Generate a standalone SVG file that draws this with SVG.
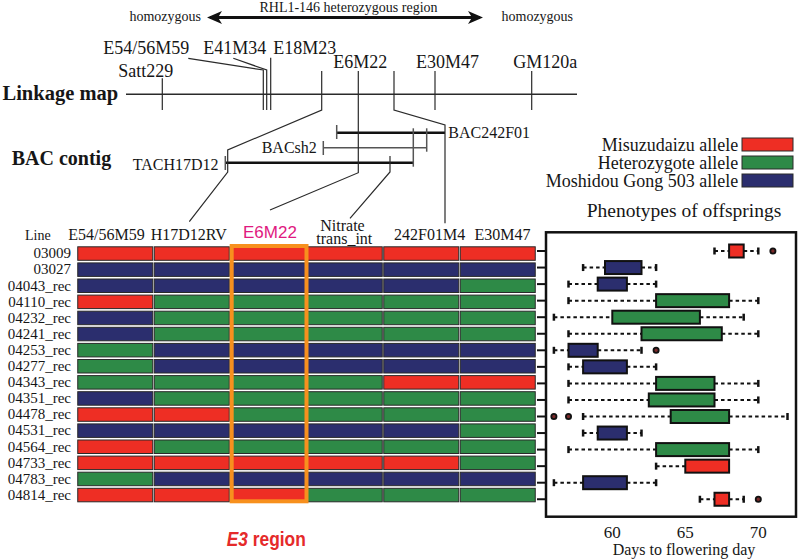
<svg xmlns="http://www.w3.org/2000/svg" width="800" height="559" viewBox="0 0 800 559">
<defs>
<style>
.t{font-family:"Liberation Serif","Times New Roman",serif;fill:#161616}
.sans{font-family:"Liberation Sans",Arial,sans-serif}
.f14{font-size:14px}.f15{font-size:15px}.f16{font-size:16px}.f17{font-size:17px}.f18{font-size:18px}.f19{font-size:19.5px}
.bold{font-weight:bold;font-size:20px}
.ln{stroke:#2a2a2a;stroke-width:1.2;fill:none}
.bar{stroke:#111;stroke-width:2.5}
.gbar{stroke:#555;stroke-width:1.5}
.R{fill:#EE2E24}.G{fill:#2E8A47}.B{fill:#2B2E6E}
.cell{stroke:#2a2a2a;stroke-width:1}
.box{stroke:#111;stroke-width:2}
.wh{stroke:#111;stroke-width:2;stroke-dasharray:3.5 3}
.cap{stroke:#111;stroke-width:2.5}
.out{fill:#7a2a2a;stroke:#111;stroke-width:1.8}
.tk{stroke:#111;stroke-width:2}
</style>
<marker id="ah" markerUnits="userSpaceOnUse" markerWidth="16" markerHeight="13" refX="12" refY="6.5" orient="auto-start-reverse">
<path d="M0,0 L15,6.5 L0,13 L4,6.5 Z" fill="#111"/>
</marker>
</defs>
<rect width="800" height="559" fill="#fff"/>

<g id="heterozygous-region">
<text class="t f14" x="201" y="21" text-anchor="end">homozygous</text>
<text class="t f14" x="348.5" y="12" text-anchor="middle">RHL1-146 heterozygous region</text>
<text class="t f14" x="501.5" y="21">homozygous</text>
<line x1="210" y1="17.5" x2="480" y2="17.5" stroke="#111" stroke-width="3" marker-start="url(#ah)" marker-end="url(#ah)"/>
</g>

<g id="linkage-map">
<text class="t bold" x="2.5" y="100" style="font-size:20.5px">Linkage map</text>
<line class="ln" x1="126" y1="94.3" x2="577" y2="94.3" style="stroke-width:1.5"/>
<line class="ln" x1="162.3" y1="78.3" x2="162.3" y2="110"/>
<line class="ln" x1="435" y1="71" x2="435" y2="110"/>
<line class="ln" x1="531.7" y1="71" x2="531.7" y2="110"/>
<text class="t f18" x="118.3" y="76.7">Satt229</text>
<text class="t f18" x="103.3" y="54.3">E54/56M59</text>
<text class="t f18" x="203.3" y="54.3">E41M34</text>
<text class="t f18" x="273.3" y="54.3">E18M23</text>
<text class="t f18" x="333.3" y="67.7">E6M22</text>
<text class="t f18" x="416" y="67.7">E30M47</text>
<text class="t f18" x="513.3" y="67.7">GM120a</text>
</g>

<g id="bac-contig">
<text class="t bold" x="11.7" y="165">BAC contig</text>
<line class="bar" x1="336.7" y1="132.7" x2="445" y2="132.7"/>
<line class="gbar" x1="336.7" y1="125" x2="336.7" y2="139"/>
<line class="gbar" x1="323.3" y1="147.7" x2="426.7" y2="147.7"/>
<line class="gbar" x1="323.3" y1="141" x2="323.3" y2="155"/>
<line class="gbar" x1="426.7" y1="128.3" x2="426.7" y2="151.7"/>
<line class="bar" x1="226" y1="162.7" x2="413.3" y2="162.7"/>
<line class="gbar" x1="225.3" y1="156" x2="225.3" y2="170"/>
<line class="gbar" x1="413.3" y1="128.3" x2="413.3" y2="166.7"/>
<text class="t f16" x="448.3" y="137.5">BAC242F01</text>
<text class="t f16" x="261.7" y="153.3">BACsh2</text>
<text class="t f16" x="132.7" y="170">TACH17D12</text>
</g>

<g id="connectors">
<polyline class="ln" points="188.3,58.3 263.3,70 263.3,110"/>
<polyline class="ln" points="233.3,58.3 266.7,70 266.7,110"/>
<polyline class="ln" points="270.7,57.7 270.7,110"/>
<polyline class="ln" points="321.7,71 321.7,110 227.7,150 227.7,172 189.3,221.7"/>
<polyline class="ln" points="358.3,71 358.3,172.7 270,210"/>
<polyline class="ln" points="394,71 394,110 445,125 445,223.3"/>
<polyline class="ln" points="390,156 390,172 350,218.3"/>
</g>

<g id="grid-headers">
<text class="t f14" x="25" y="240">Line</text>
<text class="t f16" x="68.3" y="240">E54/56M59</text>
<text class="t f16" x="150.7" y="240">H17D12RV</text>
<text class="sans f17" x="243" y="238" fill="#E0197F">E6M22</text>
<text class="t f16" x="342.5" y="231" text-anchor="middle">Nitrate</text>
<text class="t f16" x="344.3" y="243.5" text-anchor="middle">trans_int</text>
<text class="t f16" x="394" y="240">242F01M4</text>
<text class="t f16" x="474.5" y="240">E30M47</text>
</g>

<g id="genotype-grid">
<g id="row-03009" transform="translate(0,246.8)"><text class="t f15" x="71" y="11.5" text-anchor="end">03009</text><rect class="cell R" x="77.75" width="75" height="13.5"/><rect class="cell R" x="154.25" width="75" height="13.5"/><rect class="cell R" x="230.75" width="75" height="13.5"/><rect class="cell R" x="307.25" width="75" height="13.5"/><rect class="cell R" x="383.75" width="75" height="13.5"/><rect class="cell R" x="460.25" width="75" height="13.5"/></g>
<g id="row-03027" transform="translate(0,262.9)"><text class="t f15" x="71" y="11.5" text-anchor="end">03027</text><rect class="cell B" x="77.75" width="75" height="13.5"/><rect class="cell B" x="154.25" width="75" height="13.5"/><rect class="cell B" x="230.75" width="75" height="13.5"/><rect class="cell B" x="307.25" width="75" height="13.5"/><rect class="cell B" x="383.75" width="75" height="13.5"/><rect class="cell B" x="460.25" width="75" height="13.5"/></g>
<g id="row-04043" transform="translate(0,279)"><text class="t f15" x="71" y="11.5" text-anchor="end">04043_rec</text><rect class="cell B" x="77.75" width="75" height="13.5"/><rect class="cell B" x="154.25" width="75" height="13.5"/><rect class="cell B" x="230.75" width="75" height="13.5"/><rect class="cell B" x="307.25" width="75" height="13.5"/><rect class="cell B" x="383.75" width="75" height="13.5"/><rect class="cell G" x="460.25" width="75" height="13.5"/></g>
<g id="row-04110" transform="translate(0,295.1)"><text class="t f15" x="71" y="11.5" text-anchor="end">04110_rec</text><rect class="cell R" x="77.75" width="75" height="13.5"/><rect class="cell G" x="154.25" width="75" height="13.5"/><rect class="cell G" x="230.75" width="75" height="13.5"/><rect class="cell G" x="307.25" width="75" height="13.5"/><rect class="cell G" x="383.75" width="75" height="13.5"/><rect class="cell G" x="460.25" width="75" height="13.5"/></g>
<g id="row-04232" transform="translate(0,311.2)"><text class="t f15" x="71" y="11.5" text-anchor="end">04232_rec</text><rect class="cell B" x="77.75" width="75" height="13.5"/><rect class="cell G" x="154.25" width="75" height="13.5"/><rect class="cell G" x="230.75" width="75" height="13.5"/><rect class="cell G" x="307.25" width="75" height="13.5"/><rect class="cell G" x="383.75" width="75" height="13.5"/><rect class="cell G" x="460.25" width="75" height="13.5"/></g>
<g id="row-04241" transform="translate(0,327.3)"><text class="t f15" x="71" y="11.5" text-anchor="end">04241_rec</text><rect class="cell B" x="77.75" width="75" height="13.5"/><rect class="cell G" x="154.25" width="75" height="13.5"/><rect class="cell G" x="230.75" width="75" height="13.5"/><rect class="cell G" x="307.25" width="75" height="13.5"/><rect class="cell G" x="383.75" width="75" height="13.5"/><rect class="cell G" x="460.25" width="75" height="13.5"/></g>
<g id="row-04253" transform="translate(0,343.4)"><text class="t f15" x="71" y="11.5" text-anchor="end">04253_rec</text><rect class="cell G" x="77.75" width="75" height="13.5"/><rect class="cell B" x="154.25" width="75" height="13.5"/><rect class="cell B" x="230.75" width="75" height="13.5"/><rect class="cell B" x="307.25" width="75" height="13.5"/><rect class="cell B" x="383.75" width="75" height="13.5"/><rect class="cell B" x="460.25" width="75" height="13.5"/></g>
<g id="row-04277" transform="translate(0,359.5)"><text class="t f15" x="71" y="11.5" text-anchor="end">04277_rec</text><rect class="cell G" x="77.75" width="75" height="13.5"/><rect class="cell B" x="154.25" width="75" height="13.5"/><rect class="cell B" x="230.75" width="75" height="13.5"/><rect class="cell B" x="307.25" width="75" height="13.5"/><rect class="cell B" x="383.75" width="75" height="13.5"/><rect class="cell B" x="460.25" width="75" height="13.5"/></g>
<g id="row-04343" transform="translate(0,375.6)"><text class="t f15" x="71" y="11.5" text-anchor="end">04343_rec</text><rect class="cell G" x="77.75" width="75" height="13.5"/><rect class="cell G" x="154.25" width="75" height="13.5"/><rect class="cell G" x="230.75" width="75" height="13.5"/><rect class="cell G" x="307.25" width="75" height="13.5"/><rect class="cell R" x="383.75" width="75" height="13.5"/><rect class="cell R" x="460.25" width="75" height="13.5"/></g>
<g id="row-04351" transform="translate(0,391.7)"><text class="t f15" x="71" y="11.5" text-anchor="end">04351_rec</text><rect class="cell B" x="77.75" width="75" height="13.5"/><rect class="cell G" x="154.25" width="75" height="13.5"/><rect class="cell G" x="230.75" width="75" height="13.5"/><rect class="cell G" x="307.25" width="75" height="13.5"/><rect class="cell G" x="383.75" width="75" height="13.5"/><rect class="cell G" x="460.25" width="75" height="13.5"/></g>
<g id="row-04478" transform="translate(0,407.8)"><text class="t f15" x="71" y="11.5" text-anchor="end">04478_rec</text><rect class="cell R" x="77.75" width="75" height="13.5"/><rect class="cell R" x="154.25" width="75" height="13.5"/><rect class="cell G" x="230.75" width="75" height="13.5"/><rect class="cell G" x="307.25" width="75" height="13.5"/><rect class="cell G" x="383.75" width="75" height="13.5"/><rect class="cell G" x="460.25" width="75" height="13.5"/></g>
<g id="row-04531" transform="translate(0,423.9)"><text class="t f15" x="71" y="11.5" text-anchor="end">04531_rec</text><rect class="cell B" x="77.75" width="75" height="13.5"/><rect class="cell B" x="154.25" width="75" height="13.5"/><rect class="cell B" x="230.75" width="75" height="13.5"/><rect class="cell B" x="307.25" width="75" height="13.5"/><rect class="cell B" x="383.75" width="75" height="13.5"/><rect class="cell G" x="460.25" width="75" height="13.5"/></g>
<g id="row-04564" transform="translate(0,440)"><text class="t f15" x="71" y="11.5" text-anchor="end">04564_rec</text><rect class="cell R" x="77.75" width="75" height="13.5"/><rect class="cell G" x="154.25" width="75" height="13.5"/><rect class="cell G" x="230.75" width="75" height="13.5"/><rect class="cell G" x="307.25" width="75" height="13.5"/><rect class="cell G" x="383.75" width="75" height="13.5"/><rect class="cell G" x="460.25" width="75" height="13.5"/></g>
<g id="row-04733" transform="translate(0,456.1)"><text class="t f15" x="71" y="11.5" text-anchor="end">04733_rec</text><rect class="cell R" x="77.75" width="75" height="13.5"/><rect class="cell R" x="154.25" width="75" height="13.5"/><rect class="cell R" x="230.75" width="75" height="13.5"/><rect class="cell R" x="307.25" width="75" height="13.5"/><rect class="cell R" x="383.75" width="75" height="13.5"/><rect class="cell G" x="460.25" width="75" height="13.5"/></g>
<g id="row-04783" transform="translate(0,472.2)"><text class="t f15" x="71" y="11.5" text-anchor="end">04783_rec</text><rect class="cell G" x="77.75" width="75" height="13.5"/><rect class="cell B" x="154.25" width="75" height="13.5"/><rect class="cell B" x="230.75" width="75" height="13.5"/><rect class="cell B" x="307.25" width="75" height="13.5"/><rect class="cell B" x="383.75" width="75" height="13.5"/><rect class="cell B" x="460.25" width="75" height="13.5"/></g>
<g id="row-04814" transform="translate(0,488.3)"><text class="t f15" x="71" y="11.5" text-anchor="end">04814_rec</text><rect class="cell R" x="77.75" width="75" height="13.5"/><rect class="cell R" x="154.25" width="75" height="13.5"/><rect class="cell R" x="230.75" width="75" height="13.5"/><rect class="cell G" x="307.25" width="75" height="13.5"/><rect class="cell G" x="383.75" width="75" height="13.5"/><rect class="cell G" x="460.25" width="75" height="13.5"/></g>
</g>

<g id="e3-region">
<rect x="231.7" y="246" width="74.8" height="255.3" fill="none" stroke="#F7901E" stroke-width="4"/>
<text class="sans" x="266.3" y="545.7" text-anchor="middle" font-size="20" font-weight="bold" fill="#E52A2A" textLength="79" lengthAdjust="spacingAndGlyphs"><tspan font-style="italic">E3</tspan> region</text>
</g>

<g id="legend">
<text class="t f18" x="738.3" y="151" text-anchor="end">Misuzudaizu allele</text>
<text class="t f18" x="738.3" y="168.5" text-anchor="end">Heterozygote allele</text>
<text class="t f18" x="738.3" y="186.5" text-anchor="end">Moshidou Gong 503 allele</text>
<rect class="cell R" x="742" y="138" width="51" height="13"/>
<rect class="cell G" x="742" y="156" width="51" height="13"/>
<rect class="cell B" x="742" y="174" width="51" height="13"/>
</g>

<g id="boxplot">
<text class="t f19" x="684" y="216.7" text-anchor="middle">Phenotypes of offsprings</text>
<rect x="546" y="232.3" width="250" height="284.4" fill="none" stroke="#111" stroke-width="2.5"/>
<g id="yticks">
<line class="tk" x1="537" y1="251" x2="546" y2="251"/><line class="tk" x1="537" y1="267.55" x2="546" y2="267.55"/><line class="tk" x1="537" y1="284.1" x2="546" y2="284.1"/><line class="tk" x1="537" y1="300.65" x2="546" y2="300.65"/><line class="tk" x1="537" y1="317.2" x2="546" y2="317.2"/><line class="tk" x1="537" y1="333.75" x2="546" y2="333.75"/><line class="tk" x1="537" y1="350.3" x2="546" y2="350.3"/><line class="tk" x1="537" y1="366.85" x2="546" y2="366.85"/><line class="tk" x1="537" y1="383.4" x2="546" y2="383.4"/><line class="tk" x1="537" y1="399.95" x2="546" y2="399.95"/><line class="tk" x1="537" y1="416.5" x2="546" y2="416.5"/><line class="tk" x1="537" y1="433.05" x2="546" y2="433.05"/><line class="tk" x1="537" y1="449.6" x2="546" y2="449.6"/><line class="tk" x1="537" y1="466.15" x2="546" y2="466.15"/><line class="tk" x1="537" y1="482.7" x2="546" y2="482.7"/><line class="tk" x1="537" y1="499.25" x2="546" y2="499.25"/>
</g>
<g id="bp-03009" transform="translate(0,251)"><line class="wh" x1="714.5" x2="729.1"/><line class="wh" x1="743.7" x2="758.3"/><line class="cap" x1="714.5" y1="-3.5" x2="714.5" y2="3.5"/><line class="cap" x1="758.3" y1="-3.5" x2="758.3" y2="3.5"/><rect class="box R" x="729.1" y="-6.5" width="14.6" height="13"/><circle class="out" cx="772.9" r="2.6"/></g>
<g id="bp-03027" transform="translate(0,267.55)"><line class="wh" x1="583.1" x2="605"/><line class="wh" x1="641.5" x2="656.1"/><line class="cap" x1="583.1" y1="-3.5" x2="583.1" y2="3.5"/><line class="cap" x1="656.1" y1="-3.5" x2="656.1" y2="3.5"/><rect class="box B" x="605" y="-6.5" width="36.5" height="13"/></g>
<g id="bp-04043" transform="translate(0,284.1)"><line class="wh" x1="568.5" x2="597.7"/><line class="wh" x1="626.9" x2="656.1"/><line class="cap" x1="568.5" y1="-3.5" x2="568.5" y2="3.5"/><line class="cap" x1="656.1" y1="-3.5" x2="656.1" y2="3.5"/><rect class="box B" x="597.7" y="-6.5" width="29.2" height="13"/></g>
<g id="bp-04110" transform="translate(0,300.65)"><line class="wh" x1="568.5" x2="656.1"/><line class="wh" x1="729.1" x2="758.3"/><line class="cap" x1="568.5" y1="-3.5" x2="568.5" y2="3.5"/><line class="cap" x1="758.3" y1="-3.5" x2="758.3" y2="3.5"/><rect class="box G" x="656.1" y="-6.5" width="73" height="13"/></g>
<g id="bp-04232" transform="translate(0,317.2)"><line class="wh" x1="553.9" x2="612.3"/><line class="wh" x1="699.9" x2="743.7"/><line class="cap" x1="553.9" y1="-3.5" x2="553.9" y2="3.5"/><line class="cap" x1="743.7" y1="-3.5" x2="743.7" y2="3.5"/><rect class="box G" x="612.3" y="-6.5" width="87.6" height="13"/></g>
<g id="bp-04241" transform="translate(0,333.75)"><line class="wh" x1="568.5" x2="641.5"/><line class="wh" x1="721.8" x2="758.3"/><line class="cap" x1="568.5" y1="-3.5" x2="568.5" y2="3.5"/><line class="cap" x1="758.3" y1="-3.5" x2="758.3" y2="3.5"/><rect class="box G" x="641.5" y="-6.5" width="80.3" height="13"/></g>
<g id="bp-04253" transform="translate(0,350.3)"><line class="wh" x1="553.9" x2="568.5"/><line class="wh" x1="597.7" x2="641.5"/><line class="cap" x1="553.9" y1="-3.5" x2="553.9" y2="3.5"/><line class="cap" x1="641.5" y1="-3.5" x2="641.5" y2="3.5"/><rect class="box B" x="568.5" y="-6.5" width="29.2" height="13"/><circle class="out" cx="656.1" r="2.6"/></g>
<g id="bp-04277" transform="translate(0,366.85)"><line class="wh" x1="568.5" x2="583.1"/><line class="wh" x1="626.9" x2="656.1"/><line class="cap" x1="568.5" y1="-3.5" x2="568.5" y2="3.5"/><line class="cap" x1="656.1" y1="-3.5" x2="656.1" y2="3.5"/><rect class="box B" x="583.1" y="-6.5" width="43.8" height="13"/></g>
<g id="bp-04343" transform="translate(0,383.4)"><line class="wh" x1="568.5" x2="656.1"/><line class="wh" x1="714.5" x2="758.3"/><line class="cap" x1="568.5" y1="-3.5" x2="568.5" y2="3.5"/><line class="cap" x1="758.3" y1="-3.5" x2="758.3" y2="3.5"/><rect class="box G" x="656.1" y="-6.5" width="58.4" height="13"/></g>
<g id="bp-04351" transform="translate(0,399.95)"><line class="wh" x1="568.5" x2="648.8"/><line class="wh" x1="714.5" x2="758.3"/><line class="cap" x1="568.5" y1="-3.5" x2="568.5" y2="3.5"/><line class="cap" x1="758.3" y1="-3.5" x2="758.3" y2="3.5"/><rect class="box G" x="648.8" y="-6.5" width="65.7" height="13"/></g>
<g id="bp-04478" transform="translate(0,416.5)"><line class="wh" x1="583.1" x2="670.7"/><line class="wh" x1="729.1" x2="787.5"/><line class="cap" x1="583.1" y1="-3.5" x2="583.1" y2="3.5"/><line class="cap" x1="787.5" y1="-3.5" x2="787.5" y2="3.5"/><rect class="box G" x="670.7" y="-6.5" width="58.4" height="13"/><circle class="out" cx="553.9" r="2.6"/><circle class="out" cx="568.5" r="2.6"/></g>
<g id="bp-04531" transform="translate(0,433.05)"><line class="wh" x1="583.1" x2="597.7"/><line class="wh" x1="626.9" x2="641.5"/><line class="cap" x1="583.1" y1="-3.5" x2="583.1" y2="3.5"/><line class="cap" x1="641.5" y1="-3.5" x2="641.5" y2="3.5"/><rect class="box B" x="597.7" y="-6.5" width="29.2" height="13"/></g>
<g id="bp-04564" transform="translate(0,449.6)"><line class="wh" x1="568.5" x2="656.1"/><line class="wh" x1="729.1" x2="758.3"/><line class="cap" x1="568.5" y1="-3.5" x2="568.5" y2="3.5"/><line class="cap" x1="758.3" y1="-3.5" x2="758.3" y2="3.5"/><rect class="box G" x="656.1" y="-6.5" width="73" height="13"/></g>
<g id="bp-04733" transform="translate(0,466.15)"><line class="wh" x1="656.1" x2="685.3"/><line class="cap" x1="656.1" y1="-3.5" x2="656.1" y2="3.5"/><rect class="box R" x="685.3" y="-6.5" width="43.8" height="13"/></g>
<g id="bp-04783" transform="translate(0,482.7)"><line class="wh" x1="553.9" x2="583.1"/><line class="wh" x1="626.9" x2="656.1"/><line class="cap" x1="553.9" y1="-3.5" x2="553.9" y2="3.5"/><line class="cap" x1="656.1" y1="-3.5" x2="656.1" y2="3.5"/><rect class="box B" x="583.1" y="-6.5" width="43.8" height="13"/></g>
<g id="bp-04814" transform="translate(0,499.25)"><line class="wh" x1="699.9" x2="714.5"/><line class="wh" x1="729.1" x2="743.7"/><line class="cap" x1="699.9" y1="-3.5" x2="699.9" y2="3.5"/><line class="cap" x1="743.7" y1="-3.5" x2="743.7" y2="3.5"/><rect class="box R" x="714.5" y="-6.5" width="14.6" height="13"/><circle class="out" cx="758.3" r="2.6"/></g>
<text class="t f17" x="612.3" y="538.3" text-anchor="middle">60</text>
<text class="t f17" x="685.3" y="538.3" text-anchor="middle">65</text>
<text class="t f17" x="758.3" y="538.3" text-anchor="middle">70</text>
<text class="t f16" x="684" y="555" text-anchor="middle">Days to flowering day</text>
</g>
</svg>
